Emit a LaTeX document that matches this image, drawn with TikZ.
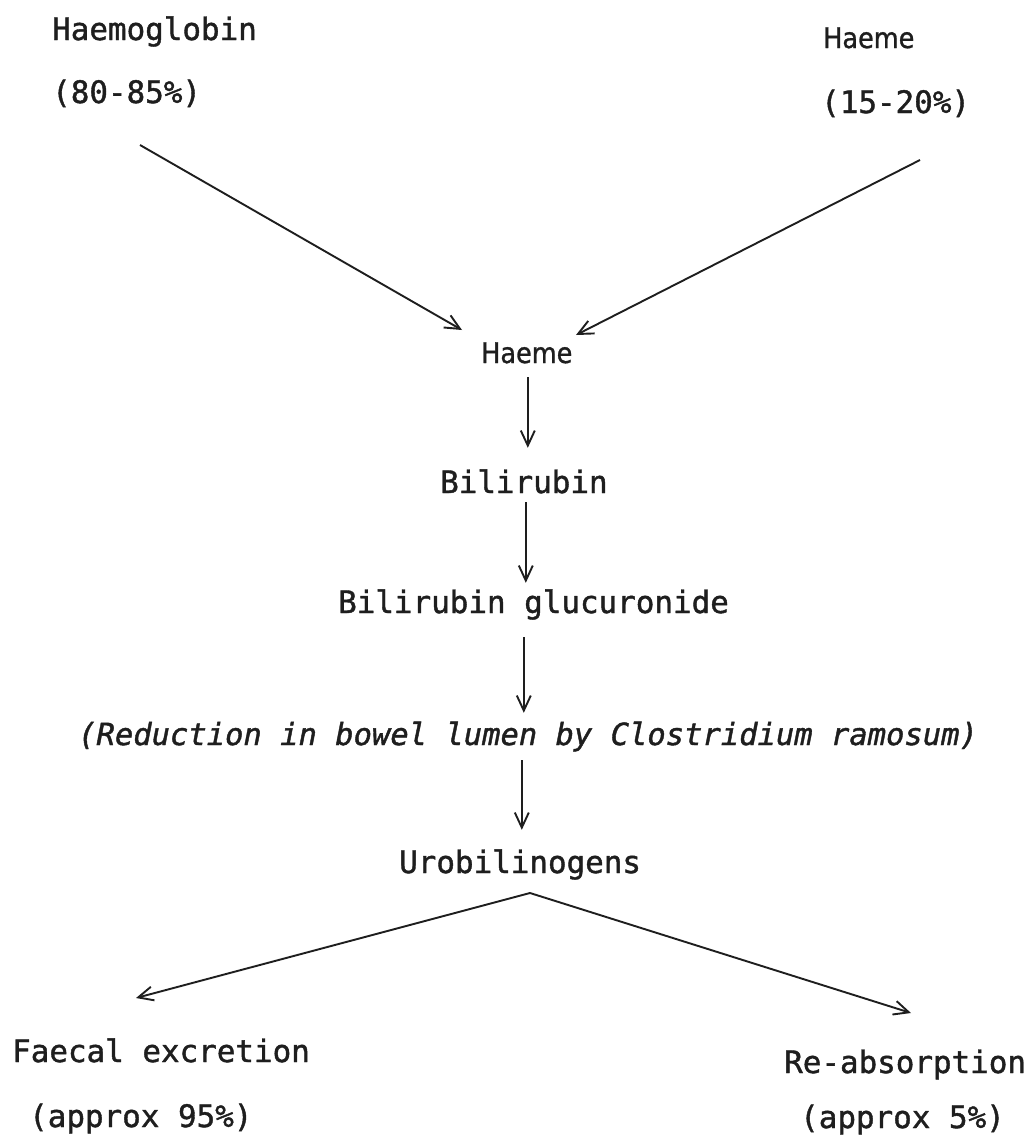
\documentclass[tikz,border=0pt]{standalone}
\usepackage{fontspec}
\usetikzlibrary{arrows.meta}
\newfontfamily\monof[FakeBold=1.3]{DejaVu Sans Mono}
\newfontfamily\propf[FakeBold=1.0]{DejaVu Sans Condensed}
\definecolor{ink}{HTML}{1E1E1E}
\begin{document}
\begin{tikzpicture}[x=1pt,y=-1pt,
  lbl/.style={anchor=base west, inner sep=0pt, text=ink,
    font=\monof\fontsize{30.9}{36}\selectfont, text height=23pt, text depth=7pt},
  ilbl/.style={lbl, font=\monof\itshape\fontsize{30.5}{36}\selectfont},
  plbl/.style={lbl, font=\propf\fontsize{28.4}{32}\selectfont, text height=21pt},
  arr/.style={draw=ink, line width=1.9pt,
    -{Straight Barb[length=15pt,width=14pt,line width=1.9pt]}}
]
\useasboundingbox (0,0) rectangle (1033,1141);
\fill[white] (0,0) rectangle (1033,1141);

% labels
\node[lbl]  (hgb)   at (52,40)    {Haemoglobin};
\node[lbl]  (hgbp)  at (52,103)   {(80-85\%)};
\node[plbl] (hm1)   at (823,48)   {Haeme};
\node[lbl]  (hm1p)  at (821,113)  {(15-20\%)};
\node[plbl] (hm2)   at (481,363)  {Haeme};
\node[lbl]  (bili)  at (440,493)  {Bilirubin};
\node[lbl]  (gluc)  at (338,613)  {Bilirubin glucuronide};
\node[ilbl] (red)   at (78,745)   {(Reduction in bowel lumen by Clostridium ramosum)};
\node[lbl]  (uro)   at (399,873)  {Urobilinogens};
\node[lbl]  (faec)  at (12,1062)  {Faecal excretion};
\node[lbl]  (faecp) at (29,1127)  {(approx 95\%)};
\node[lbl]  (reab)  at (784,1073) {Re-absorption};
\node[lbl]  (reabp) at (800,1128) {(approx 5\%)};

% connector end points
\coordinate (hgb-out) at (140,145);
\coordinate (hm2-inL) at (462,330);
\coordinate (hm1-out) at (920,160);
\coordinate (hm2-inR) at (576,335);
\coordinate (uro-out) at (530,893);
\coordinate (faec-in) at (136,998);
\coordinate (reab-in) at (911,1013);

% connectors
\draw[arr] (hgb-out) -- (hm2-inL);
\draw[arr] (hm1-out) -- (hm2-inR);
\draw[arr, shorten <=7pt, shorten >=22pt] ([xshift=1pt]hm2.south) -- ([xshift=1pt]hm2.south |- bili.north);
\draw[arr, shorten <=2pt, shorten >=7pt] ([xshift=-1pt]hm2.south |- bili.south) -- ([xshift=-1pt]hm2.south |- gluc.north);
\draw[arr, shorten <=17pt, shorten >=9pt] ([xshift=-3pt]hm2.south |- gluc.south) -- ([xshift=-3pt]hm2.south |- red.north);
\draw[arr, shorten <=8pt, shorten >=20pt] ([xshift=-5pt]hm2.south |- red.south) -- ([xshift=-5pt]hm2.south |- uro.north);
\draw[arr] (uro-out) -- (faec-in);
\draw[arr] (uro-out) -- (reab-in);
\end{tikzpicture}
\end{document}
